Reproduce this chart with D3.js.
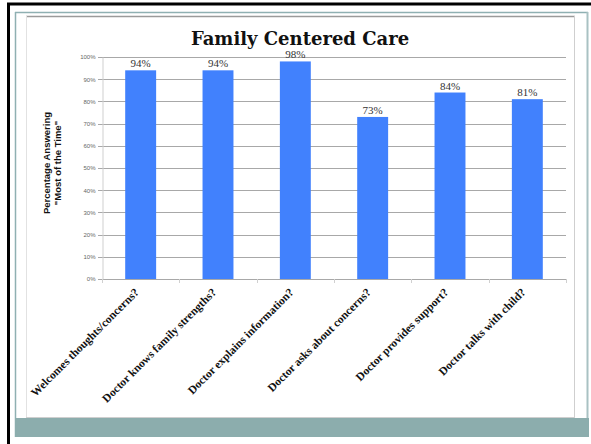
<!DOCTYPE html>
<html>
<head>
<meta charset="utf-8">
<script src="https://cdn.jsdelivr.net/npm/d3@7"></script>
<style>
  html, body { margin: 0; padding: 0; background: #fff; }
  svg { display: block; }
</style>
</head>
<body>
<svg id="chart" width="591" height="444"></svg>
<script>
// Survey items and the share of parents answering "Most of the Time"
const categories = [
  "Welcomes thoughts/concerns?",
  "Doctor knows family strengths?",
  "Doctor explains information?",
  "Doctor asks about concerns?",
  "Doctor provides support?",
  "Doctor talks with child?"
];
const values = [94, 94, 98, 73, 84, 81];
const yTicks = [0, 10, 20, 30, 40, 50, 60, 70, 80, 90, 100];
const title = "Family Centered Care";
const yTitle = ["Percentage Answering", "\"Most of the Time\""];

const SERIF = "'Liberation Serif', 'Times New Roman', serif";
const SANS = "'Liberation Sans', Arial, sans-serif";

const svg = d3.select("#chart");

// Slide frame: dark outer edge, teal rule and footer band, grey inner box
svg.append("rect").attr("x", 8.5).attr("y", 4).attr("width", 600).attr("height", 460)
  .attr("fill", "none").attr("stroke", "#000").attr("stroke-width", 3);
svg.append("line").attr("x1", 15).attr("x2", 588).attr("y1", 12.5).attr("y2", 12.5)
  .attr("stroke", "#8fb0b2").attr("stroke-width", 1.5);
svg.append("line").attr("x1", 15.5).attr("x2", 15.5).attr("y1", 12).attr("y2", 437)
  .attr("stroke", "#8fb0b2").attr("stroke-width", 1.5);
svg.append("line").attr("x1", 587.5).attr("x2", 587.5).attr("y1", 12).attr("y2", 437)
  .attr("stroke", "#a9c2c3").attr("stroke-width", 2);
svg.append("rect").attr("x", 15).attr("y", 418).attr("width", 574).attr("height", 19)
  .attr("fill", "#8cadad");
svg.append("line").attr("x1", 26).attr("x2", 575).attr("y1", 16.5).attr("y2", 16.5)
  .attr("stroke", "#9a9a9a").attr("stroke-width", 1.5);
svg.append("line").attr("x1", 26.5).attr("x2", 26.5).attr("y1", 16).attr("y2", 417)
  .attr("stroke", "#e2e2e2").attr("stroke-width", 1);
svg.append("line").attr("x1", 574.5).attr("x2", 574.5).attr("y1", 16).attr("y2", 417)
  .attr("stroke", "#cfcfcf").attr("stroke-width", 1);
svg.append("line").attr("x1", 26).attr("x2", 575).attr("y1", 417.5).attr("y2", 417.5)
  .attr("stroke", "#cfcfcf").attr("stroke-width", 1);

// Scales
const x = d3.scaleBand().domain(categories).range([102, 566])
  .paddingInner(0.6).paddingOuter(0.3);
const y = d3.scaleLinear().domain([0, 100]).range([279, 57]);

// Gridlines
svg.append("g").selectAll("line").data(yTicks).join("line")
  .attr("x1", 98).attr("x2", 566)
  .attr("y1", d => Math.round(y(d)) + 0.5).attr("y2", d => Math.round(y(d)) + 0.5)
  .attr("stroke", "#a8a8a8").attr("stroke-width", 1);

// Y axis
const yAxis = d3.axisLeft(y).tickValues(yTicks).tickSize(0).tickPadding(7)
  .tickFormat(d => d + "%");
const gy = svg.append("g").attr("transform", "translate(102.5,0)").call(yAxis);
gy.select(".domain").attr("stroke", "#cfcfcf");
gy.selectAll("text").attr("font-family", SANS)
  .attr("font-size", 6).attr("fill", "#666");

// X axis: category boundary ticks below the baseline
const boundaries = d3.range(categories.length + 1)
  .map(i => x.range()[0] + i * x.step());
svg.append("g").selectAll("line").data(boundaries).join("line")
  .attr("x1", d => Math.round(d) + 0.5).attr("x2", d => Math.round(d) + 0.5)
  .attr("y1", 279).attr("y2", 283)
  .attr("stroke", "#d0d0d0");

// Bars
svg.append("g").selectAll("rect").data(values).join("rect")
  .attr("x", (d, i) => x(categories[i]))
  .attr("y", d => y(d))
  .attr("width", x.bandwidth())
  .attr("height", d => y(0) - y(d))
  .attr("fill", "#4181fd");

// Value labels
svg.append("g").selectAll("text").data(values).join("text")
  .attr("x", (d, i) => x(categories[i]) + x.bandwidth() / 2)
  .attr("y", d => y(d) - 3)
  .attr("text-anchor", "middle")
  .style("font-family", SERIF)
  .attr("font-size", 11).attr("fill", "#333")
  .text(d => d + "%");

// Rotated category labels
svg.append("g").selectAll("text").data(categories).join("text")
  .attr("transform", d => `translate(${x(d) + x.bandwidth() / 2 - 1},${293}) rotate(-45)`)
  .attr("text-anchor", "end")
  .style("font-family", SERIF)
  .attr("font-weight", "bold")
  .attr("font-size", 11.5).attr("fill", "#111")
  .text(d => d);

// Title
svg.append("text").attr("x", 300).attr("y", 45).attr("text-anchor", "middle")
  .style("font-family", "'DejaVu Serif', Georgia, serif").attr("font-weight", "bold")
  .attr("font-size", 18).attr("fill", "#111").text(title);

// Y axis title
const yt = svg.append("text")
  .attr("transform", "translate(50,163) rotate(-90)")
  .attr("text-anchor", "middle")
  .style("font-family", SANS)
  .attr("font-weight", "bold").attr("font-size", 9.5).attr("fill", "#111");
yt.selectAll("tspan").data(yTitle).join("tspan")
  .attr("x", 0).attr("dy", (d, i) => i === 0 ? 0 : 11).text(d => d);
</script>
</body>
</html>
